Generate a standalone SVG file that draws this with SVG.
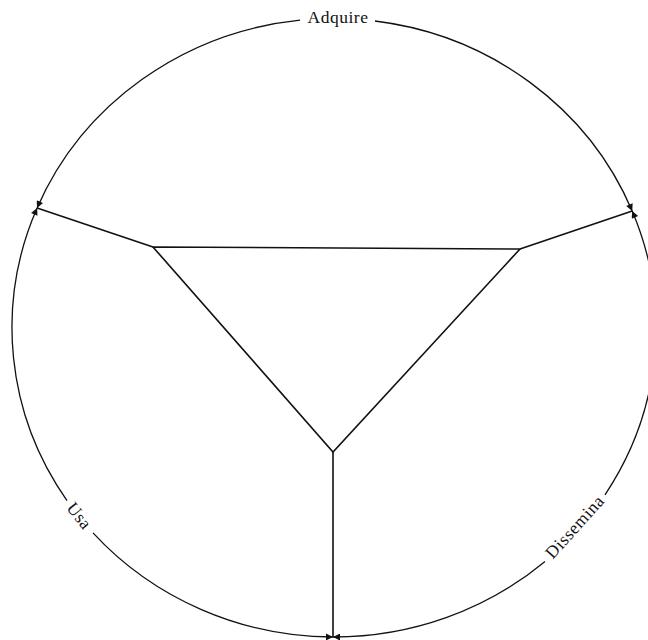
<svg xmlns="http://www.w3.org/2000/svg" width="648" height="640" viewBox="0 0 648 640">
<style>
.arc{fill:none;stroke:#111;stroke-width:1.3;marker-end:url(#ah)}
.ln{fill:none;stroke:#111;stroke-width:1.6;stroke-linejoin:miter}
.lbl{font-family:"Liberation Serif","DejaVu Serif",serif;font-size:17.5px;fill:#111;letter-spacing:0.5px;text-anchor:middle}
</style>
<defs>
<marker id="ah" viewBox="0 0 10 10" refX="10" refY="5" markerUnits="userSpaceOnUse" markerWidth="10" markerHeight="7" orient="auto">
<path d="M0,0 L10,5 L0,10 z" fill="#111"/>
</marker>
</defs>
<rect width="648" height="640" fill="#fff"/>
<g id="connectors">
<path class="arc" d="M300,20.2 A322,309.25 0 0 0 37.1,208"/>
<path class="arc" d="M375,21 A322,309.25 0 0 1 632.2,211"/>
<path class="arc" d="M67,500.6 A322,309.25 0 0 1 37.1,208"/>
<path class="arc" d="M93,532.85 A322,309.25 0 0 0 333,637"/>
<path class="arc" d="M545,561.4 A322,309.25 0 0 1 333,637"/>
<path class="arc" d="M605,494.8 A322,309.25 0 0 0 632.2,211"/>
<path class="ln" d="M153,247 L37.1,208"/>
<path class="ln" d="M520,249 L632.2,211"/>
<path class="ln" d="M333,452 L333,637"/>
</g>
<g id="triangle">
<path class="ln" d="M153,247 L520,249 L333,452 Z"/>
</g>
<g id="adquire">
<text class="lbl" x="338" y="22.5">Adquire</text>
</g>
<g id="usa">
<text class="lbl" transform="translate(79,516) rotate(51)" x="0" y="5.5">Usa</text>
</g>
<g id="dissemina">
<text class="lbl" transform="translate(575,527) rotate(-48)" x="0" y="5.5">Dissemina</text>
</g>
</svg>
